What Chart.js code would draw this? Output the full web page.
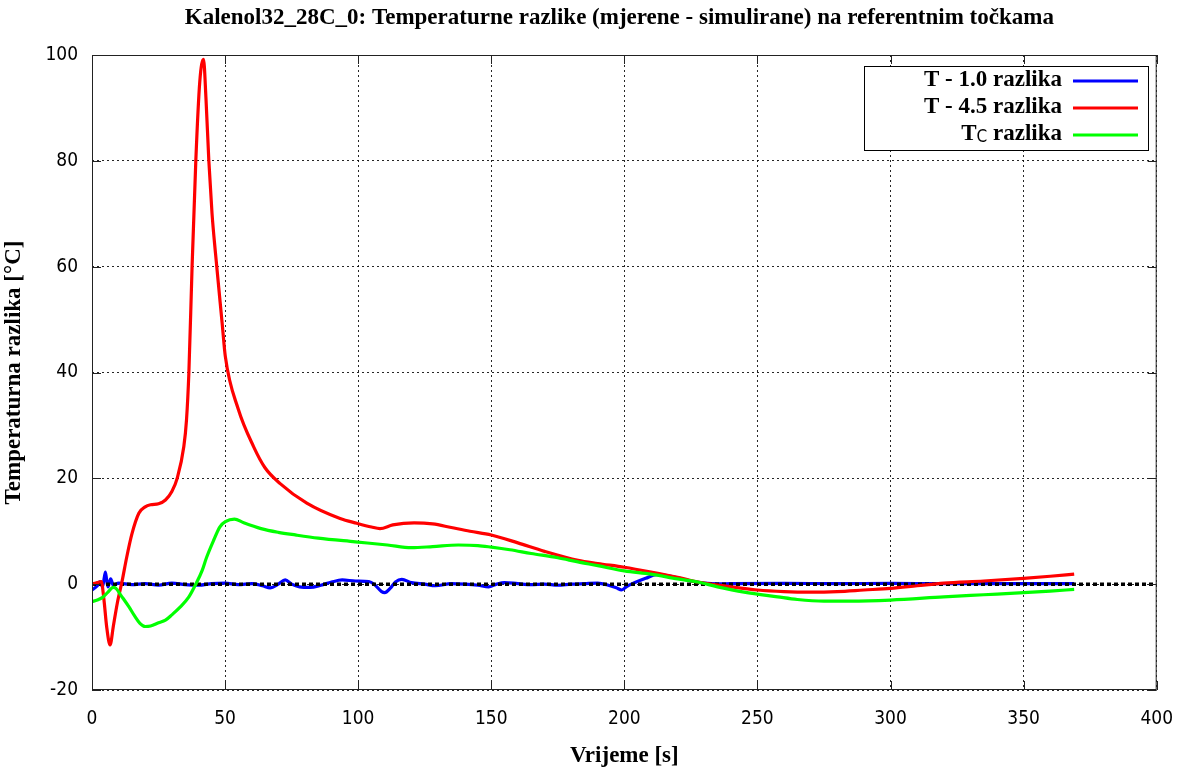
<!DOCTYPE html>
<html>
<head>
<meta charset="utf-8">
<script src="https://cdn.jsdelivr.net/npm/chart.js@4.4.0/dist/chart.umd.min.js"></script>
<style>
html,body{margin:0;padding:0;background:#fff;}
canvas{display:block;}
</style>
</head>
<body>
<canvas id="c" width="1191" height="773"></canvas>
<script>
// ---- data ----
const TITLE = 'Kalenol32_28C_0: Temperaturne razlike (mjerene - simulirane) na referentnim točkama';
const X_TITLE = 'Vrijeme [s]';
const Y_TITLE = 'Temperaturna razlika [°C]';
const LABELS = ['T - 1.0 razlika', 'T - 4.5 razlika', 'T_C razlika'];
const X_TICKS = [0, 50, 100, 150, 200, 250, 300, 350, 400];
const Y_TICKS = [-20, 0, 20, 40, 60, 80, 100];

const blueT = [0, 2, 3, 4, 5, 5.5, 6, 7, 8, 10, 15, 20, 25, 30, 35, 40, 45, 50, 55, 60, 64, 67, 70, 72.6, 75, 78, 82, 86, 90, 94, 99, 104, 106, 108.8, 110, 112, 114, 116.4, 120, 125, 129, 135, 140, 145, 149, 152, 155, 160, 165, 170, 175, 180, 185, 190, 194, 197, 199, 201, 204, 208, 212, 216, 220, 225, 230, 235, 240, 260, 280, 300, 320, 340, 369];
const blueV = [-1.1, -0.3, 0.5, -0.5, 2.3, 0.8, -0.5, 1.0, -0.2, 0.2, -0.1, 0.1, -0.2, 0.2, -0.1, -0.2, 0.1, 0.2, -0.1, 0.1, -0.3, -0.7, 0, 0.8, 0, -0.5, -0.6, -0.2, 0.4, 0.8, 0.6, 0.5, 0, -1.4, -1.6, -0.8, 0.4, 0.9, 0.3, 0, -0.3, 0.1, 0, -0.2, -0.5, 0, 0.3, 0.1, -0.1, 0, -0.2, 0, 0.1, 0.2, -0.2, -0.7, -1.1, -0.4, 0.3, 1.1, 1.8, 1.6, 1.2, 0.6, 0.2, 0.05, 0.1, 0.15, 0.1, 0.15, 0.1, 0.1, 0.1];

const redT = [0, 2, 3.5, 4.5, 5.5, 6.8, 8, 9.5, 11.4, 13, 15, 17.6, 20, 22, 25, 27.6, 30, 32, 34.5, 35.5, 36.4, 37.6, 39, 40.5, 41.9, 42.8, 43.9, 45.1, 46.4, 48.9, 50.1, 55, 60.7, 65, 70.7, 80.7, 93.2, 99.5, 105, 108.2, 113, 121, 128, 135, 142, 150, 160, 170, 182.6, 190, 200, 210, 220, 227.6, 240, 250, 260, 270, 280, 290, 300, 310, 320, 335, 350, 360, 369];
const redV = [0, 0.3, 0.5, -3, -8, -11.5, -8, -3.6, 0.8, 5, 9.5, 13.4, 14.6, 15, 15.2, 15.9, 17.5, 20, 26, 31, 40, 60, 80, 95, 99.2, 92, 80, 70, 62.5, 49.3, 43, 33, 26, 22, 19, 15.3, 12.4, 11.5, 10.8, 10.5, 11.2, 11.6, 11.4, 10.7, 10, 9.3, 7.8, 6.2, 4.5, 3.9, 3.2, 2.3, 1.3, 0.4, -0.5, -1.1, -1.4, -1.5, -1.4, -1.1, -0.8, -0.3, 0.2, 0.6, 1.1, 1.5, 1.9];

const greenT = [0, 2, 4, 6, 8, 9, 11, 13.9, 16, 18, 20, 22, 25, 27.6, 30, 33, 36.4, 39, 41.4, 43, 45.7, 48, 50.1, 53.5, 57, 63.5, 70, 76.4, 85, 98.9, 111, 120, 128, 137.6, 145, 150, 157, 165, 175, 182.6, 190, 200, 210, 220, 227.6, 235, 245, 257.6, 265, 275, 285, 300, 320, 335, 350, 360, 369];
const greenV = [-3.3, -3, -2.5, -1.5, -0.6, -0.8, -2.2, -4.3, -6, -7.4, -8, -7.9, -7.3, -6.8, -5.8, -4.4, -2.4, 0, 2.6, 5, 8.3, 10.8, 11.8, 12.3, 11.6, 10.5, 9.8, 9.3, 8.7, 8, 7.4, 6.9, 7.1, 7.4, 7.3, 7, 6.5, 5.8, 5, 4.2, 3.5, 2.5, 1.9, 1, 0.4, -0.5, -1.5, -2.4, -2.9, -3.2, -3.2, -3, -2.4, -2, -1.6, -1.3, -1];

const zeroT = [0, 400];
const zeroV = [0, 0];

// ---- build ----
const pts = (xs, ys) => xs.map((x, i) => ({x: x, y: ys[i]}));
const SERIF = "'Liberation Serif', 'Times New Roman', serif";
const SANS = "'DejaVu Sans Condensed', 'DejaVu Sans', sans-serif";
const COLORS = ['#0000ff', '#ff0000', '#00ff00'];

const decor = {
  id: 'decor',
  afterDraw(chart) {
    const ctx = chart.ctx;
    const a = chart.chartArea;
    const xs = chart.scales.x, ys = chart.scales.y;
    ctx.save();
    // border
    ctx.strokeStyle = '#222';
    ctx.lineWidth = 1;
    ctx.setLineDash([]);
    ctx.strokeRect(a.left + 0.5, a.top + 0.5, a.right - a.left - 1, a.bottom - a.top - 1);
    // inward ticks
    const TL = 9;
    ctx.beginPath();
    X_TICKS.forEach(v => {
      const px = Math.round(xs.getPixelForValue(v)) + 0.5;
      ctx.moveTo(px, a.bottom); ctx.lineTo(px, a.bottom - TL);
      ctx.moveTo(px, a.top); ctx.lineTo(px, a.top + TL);
    });
    Y_TICKS.forEach(v => {
      const py = Math.round(ys.getPixelForValue(v)) + 0.5;
      ctx.moveTo(a.left, py); ctx.lineTo(a.left + TL, py);
      ctx.moveTo(a.right, py); ctx.lineTo(a.right - TL, py);
    });
    ctx.stroke();
    // title
    ctx.fillStyle = '#000';
    ctx.font = 'bold 23px ' + SERIF;
    ctx.textAlign = 'center';
    ctx.textBaseline = 'middle';
    ctx.fillText(TITLE, (a.left + a.right) / 2 - 5, 18);
    // legend
    const bx = 864, by = 66, bw = 284, bh = 84;
    ctx.fillStyle = '#fff';
    ctx.fillRect(bx, by, bw, bh);
    ctx.strokeStyle = '#000';
    ctx.strokeRect(bx + 0.5, by + 0.5, bw, bh);
    const rows = [80, 107, 134];
    LABELS.forEach((lab, i) => {
      const y = rows[i];
      ctx.textBaseline = 'middle';
      ctx.textAlign = 'right';
      ctx.fillStyle = '#000';
      let rx = 1062;
      if (lab.indexOf('_') >= 0) {
        const m = lab.match(/^(.*?)_(\S+)(.*)$/);
        ctx.font = 'bold 23px ' + SERIF;
        ctx.fillText(m[3], rx, y);
        const w3 = ctx.measureText(m[3]).width;
        ctx.font = '17px ' + SANS;
        ctx.fillText(m[2], rx - w3, y + 4);
        const w2 = ctx.measureText(m[2]).width;
        ctx.font = 'bold 23px ' + SERIF;
        ctx.fillText(m[1], rx - w3 - w2, y);
      } else {
        ctx.font = 'bold 23px ' + SERIF;
        ctx.fillText(lab, rx, y);
      }
      ctx.strokeStyle = COLORS[i];
      ctx.lineWidth = 3;
      ctx.beginPath();
      ctx.moveTo(1073, y + 1);
      ctx.lineTo(1138, y + 1);
      ctx.stroke();
    });
    ctx.restore();
  }
};

const common = {
  showLine: true, pointRadius: 0, borderWidth: 3.2, fill: false,
  cubicInterpolationMode: 'monotone'
};

new Chart(document.getElementById('c'), {
  type: 'scatter',
  data: {
    datasets: [
      Object.assign({label: LABELS[0], data: pts(blueT, blueV), borderColor: COLORS[0], order: 4}, common),
      Object.assign({label: LABELS[1], data: pts(redT, redV), borderColor: COLORS[1], order: 2}, common),
      Object.assign({label: LABELS[2], data: pts(greenT, greenV), borderColor: COLORS[2], order: 1}, common),
      {label: 'zero', data: pts(zeroT, zeroV), showLine: true, pointRadius: 0, borderWidth: 3.5,
       borderColor: '#000', borderDash: [4, 3], order: 3, tension: 0}
    ]
  },
  options: {
    responsive: false,
    animation: false,
    devicePixelRatio: 1,
    layout: {padding: {top: 55, right: 30, left: 0, bottom: 0}},
    plugins: {legend: {display: false}, tooltip: {enabled: false}, title: {display: false}},
    scales: {
      x: {
        type: 'linear', min: 0, max: 400,
        afterFit: s => { s.height = 83; },
        afterBuildTicks: s => { s.ticks = X_TICKS.map(v => ({value: v})); },
        ticks: {padding: 18, color: '#000', font: {family: SANS, size: 19}, maxRotation: 0},
        grid: {color: 'rgba(0,0,0,0.85)', lineWidth: 1, drawTicks: false},
        border: {display: false, dash: [2, 3]},
        title: {display: true, text: X_TITLE, color: '#000', font: {family: SERIF, size: 23, weight: 'bold'}, padding: {top: 0, bottom: 3}}
      },
      y: {
        type: 'linear', min: -20, max: 100,
        afterFit: s => { s.width = 92; },
        afterBuildTicks: s => { s.ticks = Y_TICKS.map(v => ({value: v})); },
        ticks: {padding: 14, color: '#000', font: {family: SANS, size: 19}},
        grid: {color: 'rgba(0,0,0,0.85)', lineWidth: 1, drawTicks: false},
        border: {display: false, dash: [2, 3]},
        title: {display: true, text: Y_TITLE, color: '#000', font: {family: SERIF, size: 23, weight: 'bold'}, padding: {top: 0, bottom: 0}}
      }
    }
  },
  plugins: [decor]
});
</script>
</body>
</html>
